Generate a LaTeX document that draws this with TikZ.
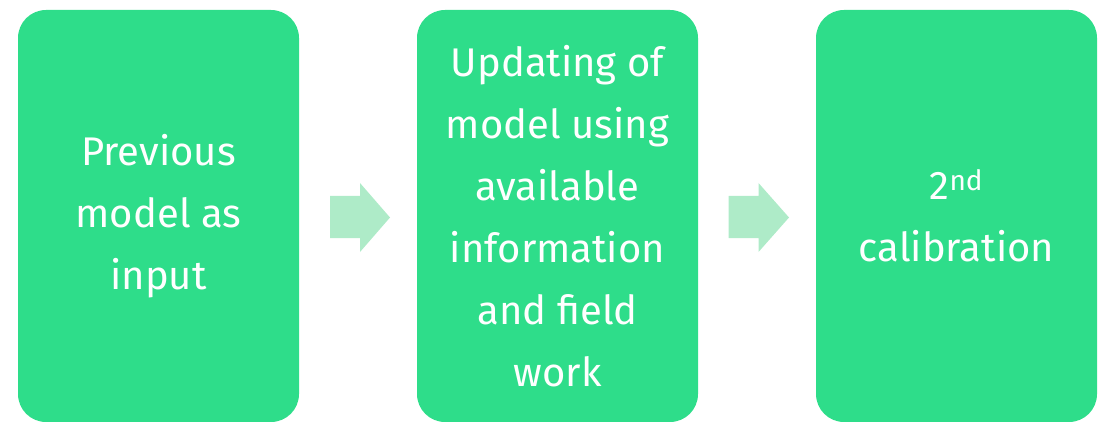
\documentclass[tikz,border=0pt]{standalone}
\usepackage{fontspec}
\setmainfont{Fira Sans}
\definecolor{boxgreen}{HTML}{2EDD8A}
\definecolor{arrowgreen}{HTML}{AEEBC8}
\begin{document}
\begin{tikzpicture}[x=1pt,y=-1pt,
  stepbox/.style={fill=boxgreen, rounded corners=28pt, minimum width=281pt,
    minimum height=412pt, inner sep=0pt, text=white, align=center,
    font=\fontsize{40}{62}\selectfont},
  flowarrow/.style={fill=arrowgreen}]
  \useasboundingbox (0,0) rectangle (1105,422);
  \node[stepbox] (prev) at (158.5,216) {Previous\\model as\\input};
  \node[stepbox] (upd) at (557.5,216) {Updating of\\model using\\available\\information\\and field\\work};
  \node[stepbox] (cal) at (956.5,216) {2\textsuperscript{nd}\\calibration};
  % block arrows between the steps
  \fill[flowarrow] (330,196) -- (360,196) -- (360,183) -- (390,217.5)
    -- (360,252) -- (360,238) -- (330,238) -- cycle;
  \fill[flowarrow] (728.5,196) -- (758.5,196) -- (758.5,183) -- (789,217.5)
    -- (758.5,252) -- (758.5,238) -- (728.5,238) -- cycle;
\end{tikzpicture}
\end{document}
